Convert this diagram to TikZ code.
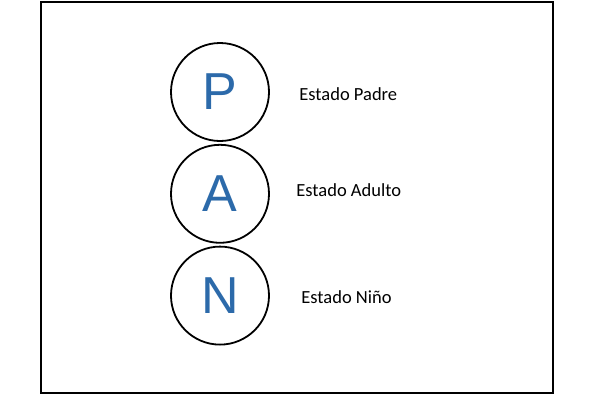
\documentclass[tikz,border=0pt]{standalone}
\usepackage{fontspec}
\setmainfont{Carlito}
\newfontfamily\letterfont{Liberation Sans}
\definecolor{panblue}{RGB}{44,106,170}
\usetikzlibrary{automata, positioning}
\tikzset{
every state/.style={line width=1.8pt, draw=black, fill=white, minimum size=98pt, inner sep=0pt, text=panblue, font=\letterfont\fontsize{52}{52}\selectfont}, % the three P A N circles
estado/.style={font=\fontsize{18.5}{20}\selectfont, text=black}, % the text beside each circle
node distance=2pt, % the circles nearly touch
}
\begin{document}
\begin{tikzpicture}
      \useasboundingbox (0pt,0pt) rectangle (595pt,-400pt);
      \draw[line width=2pt] (41pt,-2pt) rectangle (553pt,-393pt);

      \node[state] (P) at (220pt,-92pt) {P};
      \node[state, below=of P] (A) {A};
      \node[state, below=of A] (N) {N};

      \node[estado, right=26pt of P, yshift=-2pt] (padre) {Estado Padre};
      \node[estado, right=23pt of A, yshift=4pt] (adulto) {Estado Adulto};
      \node[estado, right=28pt of N, yshift=-2pt] (nino) {Estado Niño};
    \end{tikzpicture}
\end{document}
